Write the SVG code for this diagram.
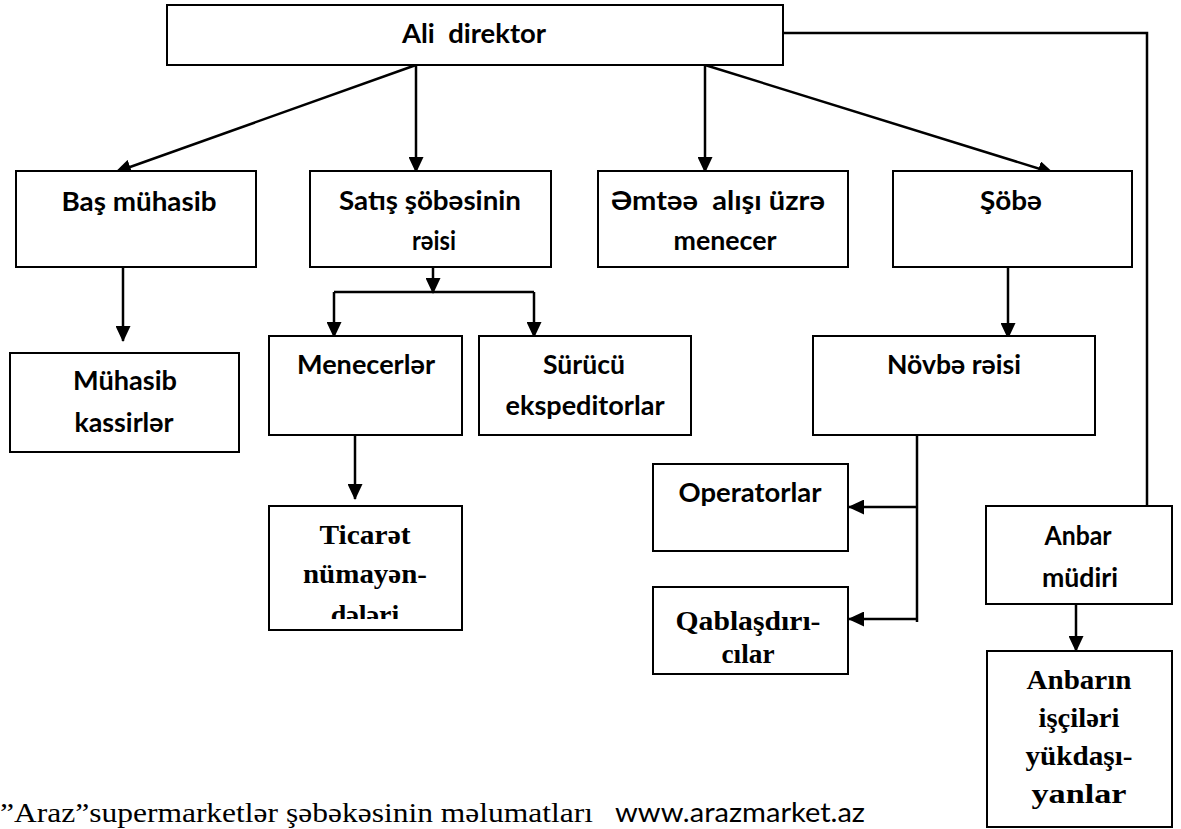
<svg xmlns="http://www.w3.org/2000/svg" width="1181" height="829" viewBox="0 0 1181 829">
<style>
.box{fill:#fff;stroke:#000;stroke-width:2}
.lbl{font-family:Lato,"Open Sans","Liberation Sans",sans-serif;font-weight:bold;font-size:26px;fill:#000;text-anchor:middle}
.tms{font-family:"Liberation Serif","Times New Roman",serif;font-weight:bold;font-size:28px;fill:#000;text-anchor:middle}
.con{fill:none;stroke:#000;stroke-width:2.5}
.arr{marker-end:url(#ah)}
</style>
<defs>
<marker id="ah" markerUnits="userSpaceOnUse" markerWidth="16" markerHeight="15" refX="15" refY="7.5" orient="auto">
<path d="M0,0 L16,7.5 L0,15 z" fill="#000"/>
</marker>
<clipPath id="clipTic"><rect x="269" y="506" width="193" height="113"/></clipPath>
</defs>
<rect width="1181" height="829" fill="#fff"/>

<g id="connectors">
<line class="con arr" x1="416" y1="65" x2="116" y2="172"/>
<line class="con arr" x1="416" y1="65" x2="416" y2="172"/>
<line class="con arr" x1="705" y1="65" x2="705" y2="172"/>
<line class="con arr" x1="705" y1="65" x2="1053" y2="173"/>
<polyline class="con" points="783,33 1147,33 1147,506"/>
<line class="con arr" x1="123" y1="267" x2="123" y2="341"/>
<line class="con arr" x1="433" y1="267" x2="433" y2="293"/>
<line class="con" x1="334" y1="292" x2="534" y2="292"/>
<line class="con arr" x1="334" y1="292" x2="334" y2="337"/>
<line class="con arr" x1="534" y1="292" x2="534" y2="337"/>
<line class="con arr" x1="355" y1="435" x2="355" y2="499"/>
<line class="con arr" x1="1008" y1="267" x2="1008" y2="338"/>
<line class="con" x1="917" y1="435" x2="917" y2="622"/>
<line class="con arr" x1="917" y1="507" x2="849" y2="507"/>
<line class="con arr" x1="917" y1="619" x2="849" y2="619"/>
<line class="con arr" x1="1076" y1="604" x2="1076" y2="651"/>
</g>

<g id="ali-direktor">
<rect class="box" x="167" y="5" width="616" height="60"/>
<text class="lbl" x="474" y="43" xml:space="preserve" textLength="144" lengthAdjust="spacingAndGlyphs">Ali  direktor</text>
</g>
<g id="bas-muhasib">
<rect class="box" x="16" y="171" width="240" height="96"/>
<text class="lbl" x="139" y="211" textLength="155" lengthAdjust="spacingAndGlyphs">Baş mühasib</text>
</g>
<g id="satis-sobesi">
<rect class="box" x="310" y="171" width="241" height="96"/>
<text class="lbl" x="430" y="210" textLength="182" lengthAdjust="spacingAndGlyphs">Satış şöbəsinin</text>
<text class="lbl" x="434" y="250" textLength="44" lengthAdjust="spacingAndGlyphs">rəisi</text>
</g>
<g id="emtee-menecer">
<rect class="box" x="598" y="171" width="250" height="96"/>
<text class="lbl" x="718" y="210" xml:space="preserve" textLength="214" lengthAdjust="spacingAndGlyphs">Əmtəə  alışı üzrə</text>
<text class="lbl" x="725" y="250" textLength="103" lengthAdjust="spacingAndGlyphs">menecer</text>
</g>
<g id="sobe">
<rect class="box" x="893" y="171" width="239" height="96"/>
<text class="lbl" x="1011" y="210" textLength="62" lengthAdjust="spacingAndGlyphs">Şöbə</text>
</g>
<g id="muhasib-kassirler">
<rect class="box" x="10" y="353" width="229" height="99"/>
<text class="lbl" x="125" y="390" textLength="104" lengthAdjust="spacingAndGlyphs">Mühasib</text>
<text class="lbl" x="124" y="432" textLength="99" lengthAdjust="spacingAndGlyphs">kassirlər</text>
</g>
<g id="menecerler">
<rect class="box" x="269" y="336" width="193" height="99"/>
<text class="lbl" x="366" y="374" textLength="138" lengthAdjust="spacingAndGlyphs">Menecerlər</text>
</g>
<g id="surucu">
<rect class="box" x="479" y="336" width="212" height="99"/>
<text class="lbl" x="584" y="374" textLength="82" lengthAdjust="spacingAndGlyphs">Sürücü</text>
<text class="lbl" x="585" y="415" textLength="159" lengthAdjust="spacingAndGlyphs">ekspeditorlar</text>
</g>
<g id="novbe-reisi">
<rect class="box" x="813" y="336" width="282" height="99"/>
<text class="lbl" x="954" y="374" textLength="134" lengthAdjust="spacingAndGlyphs">Növbə rəisi</text>
</g>
<g id="ticaret">
<rect class="box" x="269" y="506" width="193" height="124"/>
<text class="tms" x="365" y="544" textLength="91" lengthAdjust="spacingAndGlyphs">Ticarət</text>
<text class="tms" x="365" y="583" textLength="124" lengthAdjust="spacingAndGlyphs">nümayən-</text>
<text class="tms" x="365" y="624" clip-path="url(#clipTic)">dələri</text>
</g>
<g id="operatorlar">
<rect class="box" x="653" y="464" width="195" height="87"/>
<text class="lbl" x="750" y="502" textLength="143" lengthAdjust="spacingAndGlyphs">Operatorlar</text>
</g>
<g id="qablasdiricilar">
<rect class="box" x="653" y="587" width="195" height="87"/>
<text class="tms" x="748" y="630" textLength="145" lengthAdjust="spacingAndGlyphs">Qablaşdırı-</text>
<text class="tms" x="748" y="663" textLength="53" lengthAdjust="spacingAndGlyphs">cılar</text>
</g>
<g id="anbar-mudiri">
<rect class="box" x="986" y="506" width="186" height="98"/>
<text class="lbl" x="1078" y="545" textLength="67" lengthAdjust="spacingAndGlyphs">Anbar</text>
<text class="lbl" x="1080" y="587" textLength="76" lengthAdjust="spacingAndGlyphs">müdiri</text>
</g>
<g id="anbar-iscileri">
<rect class="box" x="987" y="651" width="185" height="176"/>
<text class="tms" x="1079" y="689" textLength="105" lengthAdjust="spacingAndGlyphs">Anbarın</text>
<text class="tms" x="1079" y="727" textLength="81" lengthAdjust="spacingAndGlyphs">işçiləri</text>
<text class="tms" x="1079" y="765" textLength="107" lengthAdjust="spacingAndGlyphs">yükdaşı-</text>
<text class="tms" x="1079" y="803" textLength="95" lengthAdjust="spacingAndGlyphs">yanlar</text>
</g>

<g id="footer">
<text x="0" y="822" font-family="'Liberation Serif','Times New Roman',serif" font-size="27" textLength="593" lengthAdjust="spacingAndGlyphs">”Araz”supermarketlər şəbəkəsinin məlumatları</text>
<text x="615" y="822" font-family="Lato,'Open Sans','Liberation Sans',sans-serif" font-size="27" textLength="250" lengthAdjust="spacingAndGlyphs">www.arazmarket.az</text>
</g>
</svg>
